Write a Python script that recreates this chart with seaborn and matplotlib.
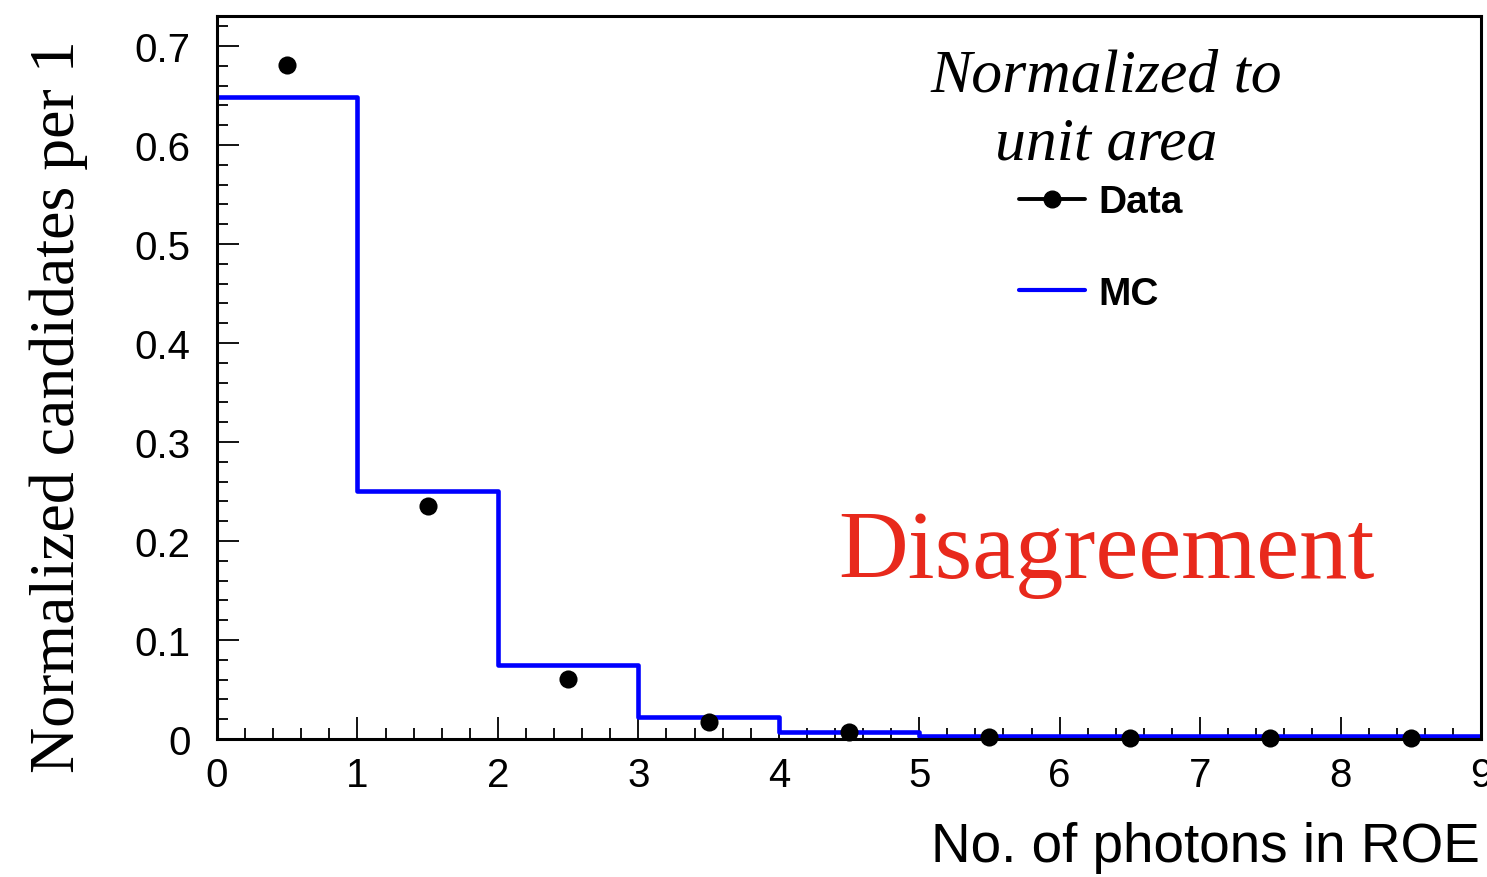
import numpy as np
import pandas as pd
import matplotlib
matplotlib.use("Agg")
import matplotlib.pyplot as plt
from matplotlib.lines import Line2D
from matplotlib.ticker import MultipleLocator
import seaborn as sns

# ---- data ----
bin_edges = [0, 1, 2, 3, 4, 5, 6, 7, 8, 9]
bin_centers = [0.5, 1.5, 2.5, 3.5, 4.5, 5.5, 6.5, 7.5, 8.5]
mc_values = [0.648, 0.250, 0.0745, 0.022, 0.0068, 0.0027, 0.0027, 0.0027, 0.0027]
data_values = [0.681, 0.235, 0.0604, 0.017, 0.0068, 0.002, 0.001, 0.001, 0.001]
x_ticks = [0, 1, 2, 3, 4, 5, 6, 7, 8, 9]
y_ticks = [0, 0.1, 0.2, 0.3, 0.4, 0.5, 0.6, 0.7]
y_tick_labels = ["0", "0.1", "0.2", "0.3", "0.4", "0.5", "0.6", "0.7"]

sns.set_style("white")
plt.rcParams["font.family"] = ["Liberation Sans", "DejaVu Sans"]
plt.rcParams["text.color"] = "black"
plt.rcParams["axes.labelcolor"] = "black"
plt.rcParams["xtick.color"] = "black"
plt.rcParams["ytick.color"] = "black"

W, H = 1487, 878
fig = plt.figure(figsize=(W / 100, H / 100), dpi=100)
ax = fig.add_axes([217 / W, 1 - 740 / H, (1481 - 217) / W, (740 - 17) / H])

df_mc = pd.DataFrame({"x": bin_centers, "w": mc_values})
sns.histplot(data=df_mc, x="x", weights="w", bins=bin_edges, element="step",
             fill=False, color="#0000ff", linewidth=3.3, ax=ax)

df_data = pd.DataFrame({"x": bin_centers, "y": data_values})
sns.scatterplot(data=df_data, x="x", y="y", color="black", s=170,
                edgecolor="black", linewidth=0, ax=ax, zorder=5, clip_on=False)

ax.set_xlim(0, 9)
ax.set_ylim(0, 0.7303)
ax.set_xticks(x_ticks)
ax.set_xticklabels([str(t) for t in x_ticks])
ax.set_yticks(y_ticks)
ax.set_yticklabels(y_tick_labels)
ax.xaxis.set_minor_locator(MultipleLocator(0.2))
ax.yaxis.set_minor_locator(MultipleLocator(0.02))
ax.tick_params(axis="both", which="both", direction="in", top=False, right=False,
               left=True, bottom=True, colors="black", labelcolor="black", width=1.3)
ax.tick_params(axis="both", which="major", length=16, labelsize=29)
ax.tick_params(axis="both", which="minor", length=8)
ax.tick_params(axis="y", which="major", pad=19)
ax.tick_params(axis="x", which="major", pad=12)
ax.set_xlabel("")
ax.set_ylabel("")
for side in ["left", "right", "top", "bottom"]:
    ax.spines[side].set_visible(True)
    ax.spines[side].set_color("black")
    ax.spines[side].set_linewidth(2.2)
ax.grid(False)

# axis titles
fig.text(1480 / W, 1 - 862 / H, "No. of photons in ROE", ha="right", va="baseline",
         fontsize=39.5, color="black", family=["Liberation Sans", "DejaVu Sans"])
fig.text(59 / W, 1 - 40 / H, "Normalized candidates per 1", ha="center", va="top",
         rotation=90, fontsize=46, color="black", family=["Liberation Serif", "DejaVu Serif"])

# annotations
fig.text(1106 / W, 1 - 92 / H, "Normalized to", ha="center", va="baseline",
         fontsize=44.5, style="italic", color="black",
         family=["Liberation Serif", "DejaVu Serif"])
fig.text(1106 / W, 1 - 160 / H, "unit area", ha="center", va="baseline",
         fontsize=44.5, style="italic", color="black",
         family=["Liberation Serif", "DejaVu Serif"])
fig.text(1106 / W, 1 - 578 / H, "Disagreement", ha="center", va="baseline",
         fontsize=69.5, color="#e8291c", family=["Liberation Serif", "DejaVu Serif"])

# legend
handles = [
    Line2D([], [], color="black", marker="o", markersize=12, linewidth=2.8),
    Line2D([], [], color="#0000ff", linewidth=3.0),
]
leg = ax.legend(handles, ["Data", "MC"], loc="upper left",
                bbox_to_anchor=(1000 / W, 1 - 166 / H), bbox_transform=fig.transFigure,
                frameon=False, handlelength=1.68, handletextpad=0.35,
                labelspacing=1.42, borderpad=0,
                prop={"family": "Liberation Sans", "weight": "bold", "size": 28})
for t in leg.get_texts():
    t.set_color("black")

fig.savefig("out.png", dpi=100)
